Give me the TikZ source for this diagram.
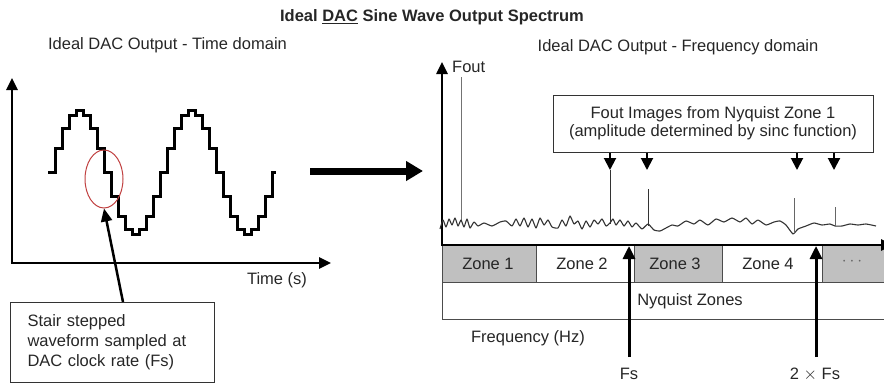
\documentclass[tikz,border=0pt]{standalone}
\usepackage{fontspec}
\setmainfont{Liberation Sans}
\usetikzlibrary{arrows.meta,shapes.geometric}
\definecolor{zonegray}{HTML}{C0C0C0}
\definecolor{ellred}{HTML}{C04040}
\begin{document}
\begin{tikzpicture}[x=1pt,y=-1pt,
  font=\fontsize{16.5}{20}\selectfont,
  lbl/.style={inner sep=0pt, text=black!85},
  axisline/.style={line width=2.5pt, -{Triangle[length=12pt,width=11pt]}},
  wave/.style={line width=3pt},
  pointer/.style={line width=2.5pt, -{Triangle[length=13pt,width=11pt]}},
  smallarrow/.style={line width=2pt, -{Triangle[length=12pt,width=12pt]}},
  fsarrow/.style={line width=3pt, -{Triangle[length=13pt,width=12pt]}},
  bigarrow/.style={line width=7pt, -{Triangle[length=17pt,width=19pt]}},
  imgline/.style={line width=1pt, black!80},
  zonebox/.style={draw=black!70, line width=0.8pt, anchor=north west, minimum height=37pt, inner sep=0pt},
  boxed/.style={draw=black!80, line width=1pt},
]
\useasboundingbox (0,0) rectangle (884,383);

% title and headings
\node[lbl, font=\fontsize{16.5}{20}\selectfont\bfseries] (title) at (432,17) {Ideal \underline{DAC} Sine Wave Output Spectrum};
\node[lbl] (tdlabel) at (167.5,45) {Ideal DAC Output - Time domain};
\node[lbl] (fdlabel) at (678,47) {Ideal DAC Output - Frequency domain};

% ---------- time domain ----------
\coordinate (origL) at (12,263);
\coordinate (ytopL) at (12,78);
\coordinate (xendL) at (331,263);
\draw[axisline] (origL) -- (ytopL);
\draw[axisline] ([xshift=-1.25pt]origL) -- (xendL);
\node[lbl] (timelbl) at (277,280) {Time (s)};

% stair-stepped sine
\draw[wave] (48,172.5)
  \foreach \k in {1,...,32}{
    -- ({48+7*\k},{172.5-62*sin(22.5*(\k-1))})
    -- ({48+7*\k},{172.5-62*sin(22.5*\k)})
  } -- (276,172.5);

\node[draw=ellred, line width=1pt, ellipse, minimum width=38pt, minimum height=58pt, inner sep=0pt] (ell) at (104,179) {};

\node[boxed, anchor=north west, minimum width=192pt, minimum height=80pt, inner xsep=17pt, align=left, text width=170pt, text=black!85] (callout) at (10,302)
  {Stair stepped\\waveform sampled at\\DAC clock rate (Fs)};
\coordinate (ptail) at (123,302);
\draw[pointer] (ptail) -- (ell.south);

% big arrow
\coordinate (ba1) at (310,171);
\coordinate (ba2) at (423,171);
\draw[bigarrow] (ba1) -- (ba2);

% ---------- frequency domain ----------
% zones
\node[zonebox, fill=zonegray, minimum width=94pt] (z1) at (442,245) {};
\node[zonebox, fill=white, minimum width=98pt] (z2) at (536,245) {};
\node[zonebox, fill=zonegray, minimum width=88pt] (z3) at (634,245) {};
\node[zonebox, fill=white, minimum width=100pt] (z4) at (722,245) {};
\node[zonebox, fill=zonegray, minimum width=70pt] (z5) at (822,245) {};
\node[zonebox, fill=white, minimum width=450pt] (nyq) at (442,282) {};
\node[lbl] (z1t) at (488,264) {Zone 1};
\node[lbl] (z2t) at (582,264) {Zone 2};
\node[lbl] (z3t) at (675,264) {Zone 3};
\node[lbl] (z4t) at (768,264) {Zone 4};
\node[lbl, text=black!60] (z5t) at (852,262) {$\cdots$};
\node[lbl] (nyqt) at (690,301) {Nyquist Zones};
\node[lbl] (freqt) at (528,338) {Frequency (Hz)};

% axes
\coordinate (origR) at (442,246);
\coordinate (ytopR) at (442,62);
\coordinate (xendR) at (893,245);
\draw[axisline] (origR) -- (ytopR);
\draw[line width=2.5pt, -{Triangle[length=12pt,width=11pt]}] (441,245) -- (xendR);
\node[lbl, anchor=west] (foutlbl) at (452,67) {Fout};

% Fout line
\coordinate (fo1) at (461,77);   \coordinate (fo2) at (461,222);
\draw[line width=1pt, black!55] (fo1) -- (fo2);

% noise floor
\draw[line width=1.1pt, black!80, line join=round] plot[smooth, tension=0.3] coordinates {
(440,229) (443,220) (446,227) (449,219) (452,225) (455,218) (458,226) (461,220) (464,227) (467,219) (470,228) (474,222) (478,226) (484,223) (492,226) (500,222) (506,221) (512,226) (516,219) (520,226) (524,218) (528,227) (532,219) (536,228) (540,218) (544,225) (548,220) (552,227) (558,228) (562,220) (566,226) (570,216) (574,224) (578,221) (582,229) (586,221) (590,227) (594,220) (598,224) (602,219) (606,226) (610,223) (613,219) (616,225) (620,220) (624,226) (628,221) (632,227) (636,223) (642,229) (648,224) (654,230) (660,231) (666,228) (672,225) (678,226) (686,221) (694,224) (700,220) (708,225) (716,219) (724,222) (732,218) (740,222) (746,218) (752,224) (758,220) (766,225) (774,222) (780,221) (786,225) (793,234) (798,229) (806,226) (814,223) (822,225) (830,224) (835,226) (842,226) (850,224) (858,225) (866,224) (876,226)};

% Fout images box
\node[boxed, minimum width=320pt, minimum height=57pt, align=center, inner sep=0pt, text=black!85,
  font=\fontsize{16.5}{18}\selectfont] (fbox) at (713,123.5)
  {Fout Images from Nyquist Zone 1\\(amplitude determined by sinc function)};
\coordinate (a1) at (610,170);
\coordinate (a2) at (647,170);
\coordinate (a3) at (797,170);
\coordinate (a4) at (834,170);
\draw[smallarrow] (fbox.south -| a1) -- (a1);
\draw[smallarrow] (fbox.south -| a2) -- (a2);
\draw[smallarrow] (fbox.south -| a3) -- (a3);
\draw[smallarrow] (fbox.south -| a4) -- (a4);

\coordinate (i1a) at (610,170); \coordinate (i1b) at (610,224);
\coordinate (i2a) at (648,189); \coordinate (i2b) at (648,226);
\coordinate (i3a) at (794,198); \coordinate (i3b) at (794,234);
\coordinate (i4a) at (835,207); \coordinate (i4b) at (835,226);
\draw[imgline] (i1a) -- (i1b);
\draw[imgline] (i2a) -- (i2b);
\draw[imgline, black!60] (i3a) -- (i3b);
\draw[imgline, black!60] (i4a) -- (i4b);

% Fs markers
\node[lbl] (fslbl) at (629,374) {Fs};
\node[lbl] (fs2lbl) at (815,374) {2 $\times$ Fs};
\coordinate (fsb) at (629,357);  \coordinate (fst) at (629,246);
\coordinate (fs2b) at (816,357); \coordinate (fs2t) at (816,246);
\draw[fsarrow] (fsb) -- (fst);
\draw[fsarrow] (fs2b) -- (fs2t);

\end{tikzpicture}
\end{document}
